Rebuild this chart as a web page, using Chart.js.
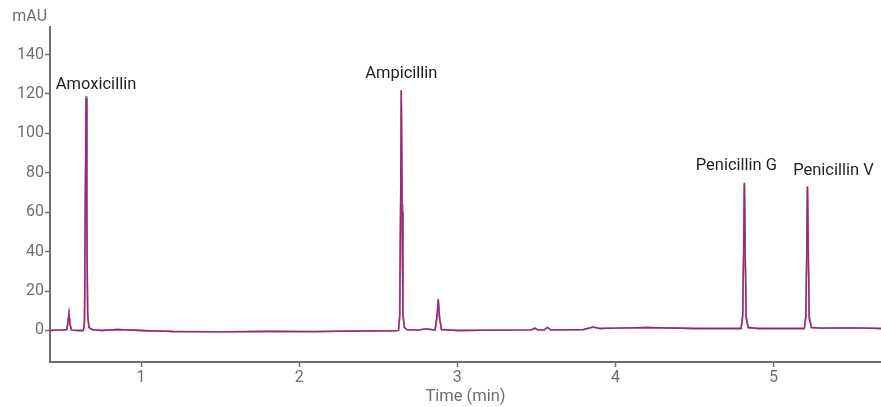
<!DOCTYPE html>
<html>
<head>
<meta charset="utf-8">
<script src="https://cdn.jsdelivr.net/npm/chart.js@4.4.1/dist/chart.umd.min.js"></script>
<style>
  html, body { margin: 0; padding: 0; background: #fff; }
  #wrap { width: 881px; height: 407px; position: relative; }
</style>
</head>
<body>
<div id="wrap"><canvas id="chrom"></canvas></div>
<script>
// retention times (min), shared by all traces
const times = [0.424, 0.50, 0.53, 0.537, 0.544, 0.551, 0.56, 0.60, 0.635, 0.642, 0.647, 0.652, 0.657, 0.662, 0.67, 0.69, 0.75, 0.85, 1.0, 1.2, 1.5, 1.8, 2.1, 2.4, 2.6,
  2.628, 2.636, 2.641, 2.646, 2.651, 2.656, 2.665, 2.68, 2.75, 2.80, 2.86, 2.872, 2.88, 2.888, 2.90, 3.0, 3.3, 3.47, 3.49, 3.51, 3.55, 3.57, 3.59, 3.8, 3.86, 3.9,
  4.0, 4.2, 4.5, 4.7, 4.795, 4.805, 4.811, 4.816, 4.821, 4.827, 4.84, 4.9, 5.1, 5.195, 5.205, 5.21, 5.215, 5.22, 5.226, 5.24, 5.3, 5.5, 5.68];

// absorbance (mAU), one list per injection
const traceA = [0, 0.3, 0.5, 4, 9, 3, 0.2, 0, 0, 5, 60, 118, 60, 8, 1.5, 0.5, 0, 0.5, 0, -0.5, -0.7, -0.5, -0.6, -0.3, -0.2,
  0, 8, 60, 122, 60, 8, 1.5, 0.5, 0.2, 0.8, 0.3, 8, 16, 6, 0.5, 0, 0.2, 0.3, 1.2, 0.3, 0.3, 1.6, 0.3, 0.5, 1.8, 1.0,
  1.2, 1.5, 1.0, 1.0, 1.0, 8, 40, 75, 40, 6, 1.5, 1.0, 1.0, 1.0, 8, 40, 73, 40, 6, 1.5, 1.2, 1.3, 1.0];
const traceB = [0, 0.2, 0.4, 3.5, 8.5, 3, 0.2, 0, 0, 4, 58, 117, 62, 9, 1.5, 0.5, 0, 0.4, 0, -0.4, -0.6, -0.5, -0.5, -0.3, -0.2,
  0, 7, 58, 121, 62, 9, 1.5, 0.5, 0.2, 0.7, 0.3, 7, 15.5, 6.5, 0.5, 0, 0.2, 0.3, 1.0, 0.3, 0.3, 1.4, 0.3, 0.5, 1.6, 1.0,
  1.2, 1.4, 1.0, 1.0, 1.0, 7, 38, 74, 42, 7, 1.5, 1.0, 1.0, 1.0, 7, 38, 72, 42, 7, 1.5, 1.2, 1.2, 1.0];
const traceC = [0, 0.3, 0.5, 3, 8, 3.5, 0.3, 0, 0, 3, 55, 119, 64, 10, 1.8, 0.5, 0, 0.5, 0, -0.5, -0.6, -0.4, -0.5, -0.3, -0.2,
  0, 6, 56, 122, 64, 10, 1.8, 0.5, 0.2, 0.8, 0.3, 6, 15, 7, 0.6, 0, 0.2, 0.3, 1.1, 0.3, 0.3, 1.5, 0.3, 0.5, 1.7, 1.0,
  1.2, 1.5, 1.0, 1.0, 1.0, 6, 36, 75, 44, 8, 1.6, 1.0, 1.0, 1.0, 6, 36, 73, 44, 8, 1.6, 1.2, 1.3, 1.0];
const traceD = [0, 0.3, 0.5, 3.8, 8.8, 3, 0.2, 0, 0, 4.5, 59, 118, 61, 8.5, 1.5, 0.5, 0, 0.5, 0, -0.5, -0.7, -0.5, -0.6, -0.3, -0.2,
  0, 7.5, 59, 121.5, 61, 8.5, 1.5, 0.5, 0.2, 0.8, 0.3, 7.5, 15.8, 6.2, 0.5, 0, 0.2, 0.3, 1.2, 0.3, 0.3, 1.6, 0.3, 0.5, 1.8, 1.0,
  1.2, 1.5, 1.0, 1.0, 1.0, 7.5, 39, 74.5, 41, 6.5, 1.5, 1.0, 1.0, 1.0, 7.5, 39, 72.5, 41, 6.5, 1.5, 1.2, 1.3, 1.0];

const peakNames = ['Amoxicillin', 'Ampicillin', 'Penicillin G', 'Penicillin V'];
const peakTimes = [0.652, 2.646, 4.816, 5.215];
const peakHeights = [118, 122, 75, 73];

const yTicks = [0, 20, 40, 60, 80, 100, 120, 140];
const xTicks = [1, 2, 3, 4, 5];

const axisGray = '#6d6e71';
const fontFam = 'Roboto, "DejaVu Sans", sans-serif';

function toPoints(ys) {
  return times.map((t, i) => ({ x: t, y: ys[i] }));
}

// label offsets in px from each peak top (dx, dy) to the text centre
const labelOffsets = [[10, -13], [0, -16], [-8, -17], [26, -16]];

const labelPlugin = {
  id: 'peakLabels',
  afterDatasetsDraw(chart) {
    const ctx = chart.ctx;
    const xs = chart.scales.x, ys = chart.scales.y;
    ctx.save();
    ctx.font = '16.5px ' + fontFam;
    ctx.fillStyle = '#231f20';
    ctx.textAlign = 'center';
    ctx.textBaseline = 'middle';
    peakNames.forEach((name, i) => {
      const px = xs.getPixelForValue(peakTimes[i]) + labelOffsets[i][0];
      const py = ys.getPixelForValue(peakHeights[i]) + labelOffsets[i][1];
      ctx.fillText(name, px, py);
    });
    // unit label above the y axis
    ctx.font = '16px ' + fontFam;
    ctx.fillStyle = axisGray;
    ctx.textAlign = 'right';
    ctx.fillText('mAU', chart.chartArea.left - 3, 17);
    ctx.restore();
  }
};

new Chart(document.getElementById('chrom'), {
  type: 'line',
  data: {
    datasets: [
      { data: toPoints(traceA), borderColor: '#a0237a' },
      { data: toPoints(traceB), borderColor: '#c890c0' },
      { data: toPoints(traceC), borderColor: '#6b9a4c' },
      { data: toPoints(traceD), borderColor: '#c4a062' }
    ].map(d => Object.assign(d, { borderWidth: 1.4, pointRadius: 0, tension: 0, fill: false }))
  },
  options: {
    responsive: true,
    maintainAspectRatio: false,
    animation: false,
    layout: { padding: { top: 27, right: 0, left: 0, bottom: 0 } },
    plugins: { legend: { display: false }, tooltip: { enabled: false } },
    scales: {
      x: {
        type: 'linear',
        min: 0.424,
        max: 5.68,
        afterBuildTicks(scale) { scale.ticks = xTicks.map(v => ({ value: v })); },
        afterFit(scale) { scale.height = 45; },
        border: { color: axisGray, width: 2 },
        grid: { drawOnChartArea: false, tickLength: 5, tickColor: axisGray, tickWidth: 1.5 },
        ticks: { color: axisGray, font: { family: fontFam, size: 16 }, padding: 1, maxRotation: 0 },
        title: { display: true, text: 'Time (min)', color: axisGray, font: { family: fontFam, size: 16.5 }, padding: { top: 0, bottom: 0 } }
      },
      y: {
        min: -16,
        max: 154,
        afterBuildTicks(scale) { scale.ticks = yTicks.map(v => ({ value: v })); },
        afterFit(scale) { scale.width = 50; },
        border: { color: axisGray, width: 2 },
        grid: { drawOnChartArea: false, tickLength: 5, tickColor: axisGray, tickWidth: 1.5 },
        ticks: { color: axisGray, font: { family: fontFam, size: 16 }, padding: 1 }
      }
    }
  },
  plugins: [labelPlugin]
});
</script>
</body>
</html>
